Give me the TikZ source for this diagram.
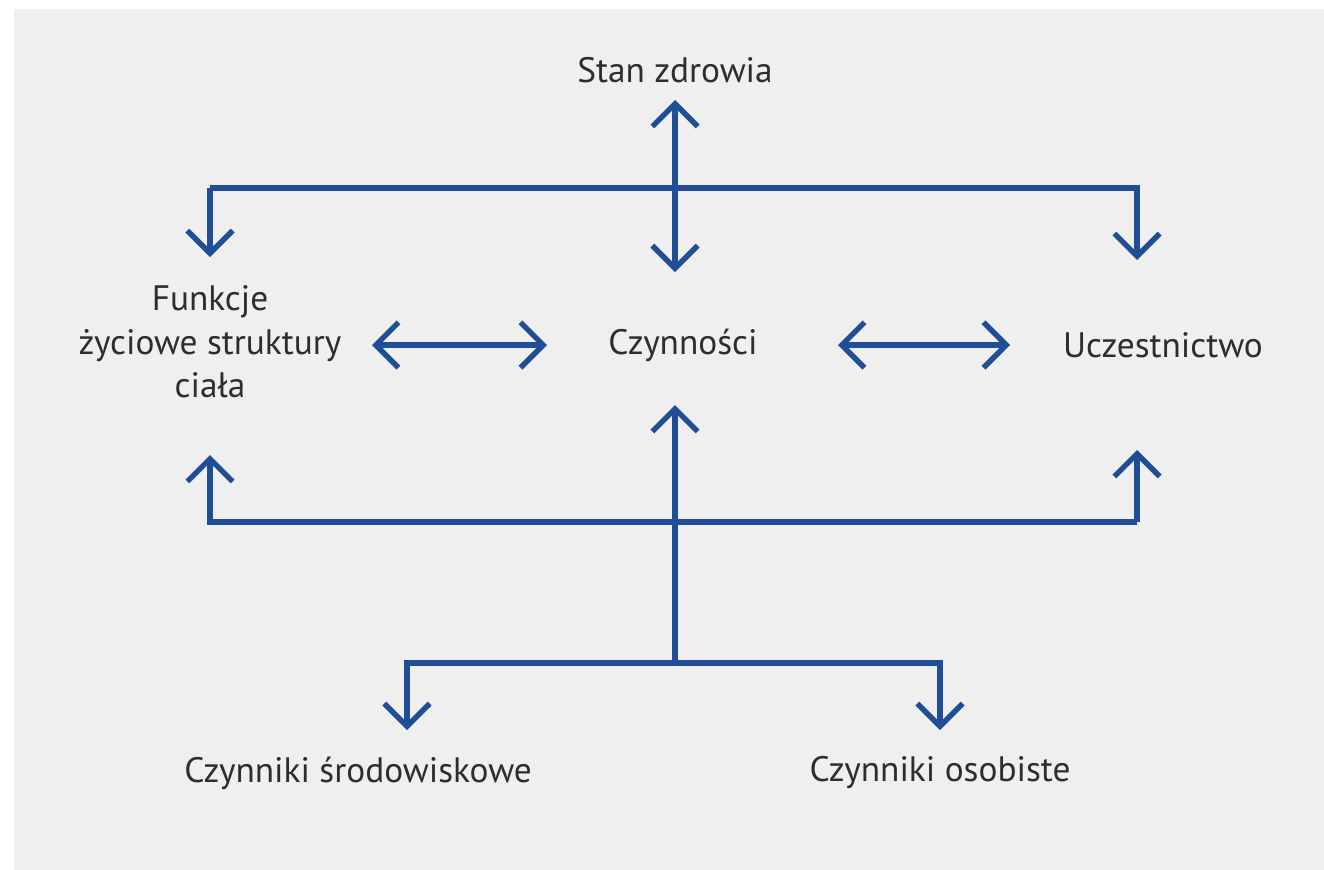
\documentclass[tikz,border=0pt]{standalone}
\usepackage{fontspec}
\setmainfont{PT Sans}
\usepackage{tikz}
\usetikzlibrary{arrows.meta}
\definecolor{icfblue}{RGB}{31,78,150}
\definecolor{icftext}{RGB}{45,45,45}
\definecolor{icfbg}{RGB}{239,239,239}

\tikzset{
  icfline/.style={draw=icfblue, line width=4pt, line join=miter},
  icftip/.style={-{Straight Barb[length=17pt,width=34pt,line width=4pt]}},
  icfboth/.style={{Straight Barb[length=17pt,width=34pt,line width=4pt]}-{Straight Barb[length=17pt,width=34pt,line width=4pt]}},
  icflabel/.style={text=icftext, font=\fontsize{26.5}{32.5}\selectfont, align=center}
}

\begin{document}
\begin{tikzpicture}[x=0.75pt,y=0.75pt,yscale=-1]
\useasboundingbox (0,0) rectangle (1324,869);
%Shape: Background
\fill [white] (-5,-5) rectangle (1330,875);
\fill [icfbg] (14,9) rectangle (1330,875);

% Text Node
\node [icflabel] (stan) at (675,70) {Stan zdrowia};
% Text Node
\node [icflabel] (funk) at (210,342) {Funkcje\\życiowe struktury\\ciała};
% Text Node
\node [icflabel] (czyn) at (683,345) {Czynności};
% Text Node
\node [icflabel] (ucz) at (1163,345) {Uczestnictwo};
% Text Node
\node [icflabel] (srod) at (358,773) {Czynniki środowiskowe};
% Text Node
\node [icflabel] (osob) at (940,773) {Czynniki osobiste};

%Coordinates of the bars
\coordinate (topL) at (210,188);
\coordinate (topR) at (1137,188);
\coordinate (botL) at (210,522);
\coordinate (botR) at (1137,522);
\coordinate (lowL) at (407,663);
\coordinate (lowR) at (940,663);
\coordinate (lowM) at (675,663);

%Straight Lines: upper bar
\draw [icfline, icftip] (topL) -- (topR) -- (1137,260);
\draw [icfline, icftip] (topL) -- (210,257);
\draw [icfline, icfboth] (675,100) -- (675,272);

%Straight Lines: double arrows
\draw [icfline, icfboth] (372,345) -- (547,345);
\draw [icfline, icfboth] (838,345) -- (1010,345);

%Straight Lines: lower bar
\draw [icfline, icftip] (botR) -- (botL) -- (210,455);
\draw [icfline, icftip] (botR) -- (1137,450);
\draw [icfline, icftip] (lowM) -- (675,405);

%Straight Lines: bottom bar
\draw [icfline, icftip] (lowR) -- (lowL) -- (407,730);
\draw [icfline, icftip] (lowL) -- (lowR) -- (940,730);
\end{tikzpicture}
\end{document}
